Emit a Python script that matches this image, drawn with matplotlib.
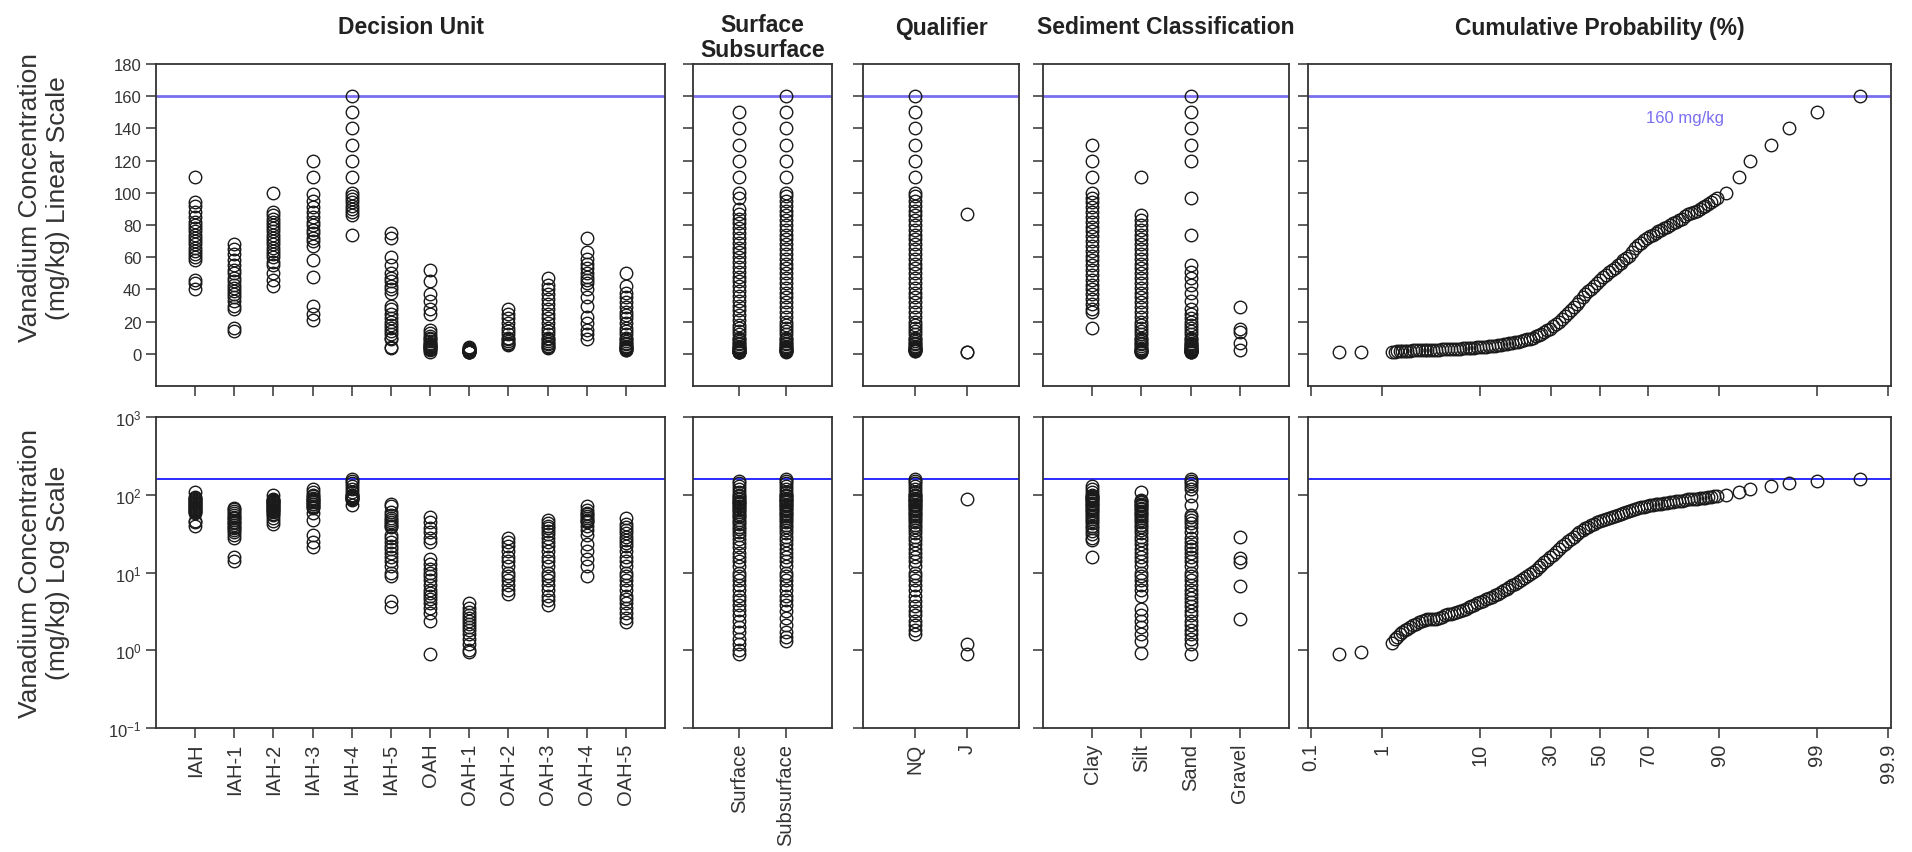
import numpy as np
import matplotlib
matplotlib.use("Agg")
import matplotlib.pyplot as plt
from matplotlib.ticker import FixedLocator, NullLocator
from statistics import NormalDist

plt.rcParams['font.family'] = ['Liberation Sans', 'DejaVu Sans']

# ---- datos (mg/kg) por unidad de decision ----
du_labels = ['IAH', 'IAH-1', 'IAH-2', 'IAH-3', 'IAH-4', 'IAH-5',
             'OAH', 'OAH-1', 'OAH-2', 'OAH-3', 'OAH-4', 'OAH-5']
iah = [110, 94, 92, 88, 85, 82, 80, 78, 76, 74, 72, 70, 68, 66, 64, 62, 60, 58, 46, 44, 40]
iah_1 = [68, 65, 62, 58, 55, 52, 50, 47, 45, 43, 41, 39, 37, 35, 33, 30, 28, 16, 14]
iah_2 = [100, 88, 86, 84, 82, 80, 78, 76, 74, 72, 70, 68, 66, 64, 62, 60, 57, 55, 50, 46, 42]
iah_3 = [120, 110, 99, 95, 91, 88, 85, 82, 80, 77, 75, 72, 70, 67, 58, 48, 30, 25, 21]
iah_4 = [160, 150, 140, 130, 120, 110, 100, 98, 96, 94, 92, 90, 88, 86, 74]
iah_5 = [75, 72, 60, 55, 50, 47, 45, 42, 40, 38, 30, 28, 25, 22, 20, 18, 16, 14, 12, 10, 9, 4.3, 3.6]
oah = [52, 45, 37, 33, 28, 25, 15, 13, 11, 10, 9, 8, 7, 6, 5.5, 5, 4.5, 4, 3.5, 3, 2.4, 0.9]
oah_1 = [4.1, 3.5, 3.1, 2.8, 2.6, 2.4, 2.2, 2.0, 1.8, 1.6, 1.4, 1.2, 1.0, 0.95]
oah_2 = [28, 25, 22, 19, 16, 14, 12, 10, 9, 8, 7, 6, 5.3]
oah_3 = [47, 43, 40, 37, 34, 31, 28, 25, 22, 19, 16, 14, 12, 10, 9, 8, 7, 6, 5, 4.4, 3.8]
oah_4 = [72, 63, 59, 56, 53, 50, 48, 46, 44, 40, 35, 30, 23, 19, 15, 12, 9]
oah_5 = [50, 42, 38, 35, 32, 29, 26, 24, 22, 19, 16, 14, 12, 10, 9, 8, 7, 6, 5, 4.5, 4, 3.5, 3, 2.6, 2.3]

# superficie / subsuperficie
ss_labels = ['Surface', 'Subsurface']
surface = [150, 140, 130, 120, 110, 100, 97, 90, 87, 84, 81, 78, 75, 72, 69, 66, 63, 60, 57, 54, 51,
           48, 45, 42, 39, 36, 33, 30, 27, 24, 21, 18, 16, 14, 12, 10, 9, 8, 7, 6, 5, 4.4, 3.8,
           3.3, 2.8, 2.4, 2, 1.7, 1.4, 1.2, 1.0, 0.9]
subsurface = [160, 150, 140, 130, 120, 110, 100, 98, 95, 92, 89, 86, 83, 80, 77, 74, 71, 68, 65, 62,
              59, 56, 53, 50, 47, 44, 41, 38, 35, 32, 29, 26, 23, 20, 18, 16, 14, 12, 10, 9, 8, 7,
              6, 5, 4.4, 3.8, 3.2, 2.6, 2.1, 1.7, 1.5, 1.3]

# calificador
q_labels = ['NQ', 'J']
nq = [160, 150, 140, 130, 120, 110, 100, 98, 95, 92, 89, 86, 83, 80, 77, 74, 71, 68, 65, 62, 59, 56,
      53, 50, 47, 44, 41, 38, 35, 32, 29, 26, 23, 20, 18, 16, 14, 12, 10, 9, 8, 7, 6, 5, 4.3, 3.7,
      3.2, 2.8, 2.4, 2.1, 1.8, 1.6]
j_flag = [87, 1.2, 0.9]

# clasificacion de sedimento
sed_labels = ['Clay', 'Silt', 'Sand', 'Gravel']
clay = [130, 120, 110, 100, 97, 94, 91, 88, 85, 82, 79, 76, 73, 70, 67, 64, 61, 58, 55, 52, 49, 46,
        43, 40, 37, 34, 31, 28, 26, 16]
silt = [110, 86, 83, 80, 77, 74, 71, 68, 65, 62, 59, 56, 53, 50, 47, 44, 41, 38, 35, 32, 29, 26, 23,
        20, 18, 16, 14, 12, 10, 9, 8, 7, 6, 5, 3.4, 2.8, 2.4, 2.0, 1.6, 1.3, 0.93]
sand = [160, 150, 140, 130, 120, 97, 74, 55, 51, 47, 43, 38, 33, 28, 25, 22, 20, 18, 16, 14, 12, 10,
        9, 8, 7, 6, 5.3, 4.7, 4.2, 3.7, 3.2, 2.8, 2.4, 2.1, 1.8, 1.6, 1.4, 1.2, 0.9]
gravel = [29, 15.5, 13.5, 6.8, 2.5]

# probabilidad acumulada (%) y concentracion
cum_pct = [0.26, 0.53, 1.32, 1.42, 1.52, 1.62, 1.72, 1.84, 1.96, 2.12, 2.29, 2.46, 2.64, 2.84, 3.05,
           3.27, 3.51, 3.76, 4.02, 4.30, 4.60, 4.92, 5.24, 5.60, 5.95, 6.33, 6.72, 7.15, 7.58, 8.04,
           8.50, 9.01, 9.52, 10.06, 10.6, 11.2, 11.8, 12.4, 13.1, 13.8, 14.5, 15.2, 16.0, 16.7, 17.5,
           18.3, 19.2, 20.0, 20.9, 21.8, 22.8, 23.7, 24.7, 25.7, 26.7, 27.7, 28.8, 29.9, 31.0, 32.1,
           33.3, 34.4, 35.6, 36.7, 37.9, 39.1, 40.3, 41.5, 42.8, 44.0, 45.2, 46.5, 47.7, 49.0, 50.2,
           51.5, 52.7, 54.0, 55.2, 56.5, 57.7, 58.9, 60.1, 61.3, 62.5, 63.7, 64.9, 66.0, 67.1, 68.3,
           69.4, 70.5, 71.5, 72.6, 73.6, 74.6, 75.6, 76.6, 77.5, 78.5, 79.4, 80.3, 81.1, 82.0, 82.8,
           83.6, 84.3, 85.1, 85.8, 86.5, 87.1, 87.8, 88.4, 89.0, 89.6, 91.3,
           93.2, 94.6, 96.7, 97.9, 99.0, 99.74]
cum_val = [0.9, 0.95, 1.25, 1.4, 1.5, 1.6, 1.7, 1.8, 1.9, 2.0, 2.1, 2.2, 2.3, 2.4, 2.45,
           2.5, 2.5, 2.55, 2.55, 2.6, 2.7, 2.8, 2.9, 2.95, 3.0, 3.1, 3.2, 3.3, 3.4, 3.55,
           3.7, 3.85, 4.0, 4.15, 4.3, 4.5, 4.7, 4.9, 5.1, 5.35, 5.6, 5.9, 6.2, 6.5, 6.9,
           7.2, 7.6, 8.0, 8.4, 8.9, 9.5, 10.1, 10.8, 11.6, 12.5, 13.5, 14.5, 15.7, 17, 18.5,
           20, 21.7, 23.5, 25.2, 27, 29, 31, 33, 35, 37, 39, 40.5, 42, 44, 46,
           47.5, 49, 50.5, 52, 53.5, 55, 56.5, 58, 59.5, 61, 63.5, 66, 67.5, 69, 70.5,
           72, 73, 74, 75, 76, 77, 78, 79, 80, 81, 82, 83, 84, 85.5, 87,
           87.5, 88, 89, 90, 91, 92, 93, 94, 95.5, 97, 100,
           110, 120, 130, 140, 150, 160]
cum_ticks = [0.1, 1, 10, 30, 50, 70, 90, 99, 99.9]
cum_ticklabels = ['0.1', '1', '10', '30', '50', '70', '90', '99', '99.9']

limite = 160  # mg/kg

# ---- estilo ----
mk = dict(linestyle='none', marker='o', mfc='none', mec='#1a1a1a', ms=9, mew=1.0)
azul_lin = '#7a6ff0'
azul_log = '#2b2bff'
fs_tick = 12
fs_cat = 14.5

_nd = NormalDist()


def prob_fwd(p):
    p = np.clip(np.asarray(p, dtype=float), 1e-6, 100 - 1e-6)
    return np.vectorize(_nd.inv_cdf, otypes=[float])(p / 100.0)


def prob_inv(z):
    return np.vectorize(_nd.cdf, otypes=[float])(np.asarray(z, dtype=float)) * 100.0


def estilo(ax, izquierda):
    for s in ax.spines.values():
        s.set_color('#333333')
        s.set_linewidth(1.3)
    ax.tick_params(direction='out', length=7, width=1.1, color='#333333',
                   labelsize=fs_tick, labelcolor='#333333')
    ax.tick_params(axis='x', labelsize=fs_cat)
    if not izquierda:
        ax.tick_params(axis='y', labelleft=False)


fig = plt.figure(figsize=(19.12, 8.53), dpi=100)

W, H = 1912.0, 853.0
# paneles en pixeles (izq, der)
cols = [(156, 665), (693, 832), (863, 1019), (1043, 1289), (1308, 1891)]
filas = [(65, 387), (418, 729)]

grupos = [
    (du_labels, [iah, iah_1, iah_2, iah_3, iah_4, iah_5, oah, oah_1, oah_2, oah_3, oah_4, oah_5]),
    (ss_labels, [surface, subsurface]),
    (q_labels, [nq, j_flag]),
    (sed_labels, [clay, silt, sand, gravel]),
]

axes = {}
for fi, (top, bot) in enumerate(filas):
    for ci, (l, r) in enumerate(cols):
        ax = fig.add_axes([l / W, 1 - bot / H, (r - l) / W, (bot - top) / H])
        axes[(fi, ci)] = ax
        log = fi == 1
        if ci < 4:
            labels, vals = grupos[ci]
            for k, v in enumerate(vals):
                ax.plot(np.full(len(v), k), v, **mk)
            ax.set_xlim(-1, len(labels))
            ax.set_xticks(range(len(labels)))
            if log:
                ax.set_xticklabels(labels, rotation=90)
            else:
                ax.set_xticklabels([])
        else:
            ax.plot(cum_pct, cum_val, **mk)
            ax.set_xscale('function', functions=(prob_fwd, prob_inv))
            ax.set_xlim(0.09, 99.91)
            ax.xaxis.set_major_locator(FixedLocator(cum_ticks))
            ax.xaxis.set_minor_locator(NullLocator())
            if log:
                ax.set_xticklabels(cum_ticklabels, rotation=90)
            else:
                ax.set_xticklabels([])
        if log:
            ax.set_yscale('log')
            ax.set_ylim(0.1, 1000)
            ax.yaxis.set_major_locator(FixedLocator([0.1, 1, 10, 100, 1000]))
            ax.yaxis.set_minor_locator(NullLocator())
            ax.axhline(limite, color=azul_log, lw=1.4, zorder=1)
        else:
            ax.set_ylim(-20, 180)
            ax.set_yticks(range(0, 181, 20))
            ax.axhline(limite, color=azul_lin, lw=2.0, zorder=1)
        estilo(ax, ci == 0)

axes[(0, 4)].text(82, 147, '160 mg/kg', color=azul_lin, fontsize=12, ha='center', va='center')

# titulos de columna
titulos = ['Decision Unit', 'Surface\nSubsurface', 'Qualifier', 'Sediment Classification',
           'Cumulative Probability (%)']
for (l, r), t in zip(cols, titulos):
    yy = 38 if '\n' in t else 28
    fig.text((l + r) / 2 / W, 1 - yy / H, t, ha='center', va='center', fontsize=16.5,
             fontweight='bold', color='#222222', linespacing=1.1)

fig.text(44 / W, 1 - 198 / H, 'Vanadium Concentration\n(mg/kg) Linear Scale', rotation=90,
         ha='center', va='center', fontsize=19, color='#333333', linespacing=1.2)
fig.text(44 / W, 1 - 573 / H, 'Vanadium Concentration\n(mg/kg) Log Scale', rotation=90,
         ha='center', va='center', fontsize=19, color='#333333', linespacing=1.2)

fig.savefig('out.png', dpi=100, facecolor='white')
